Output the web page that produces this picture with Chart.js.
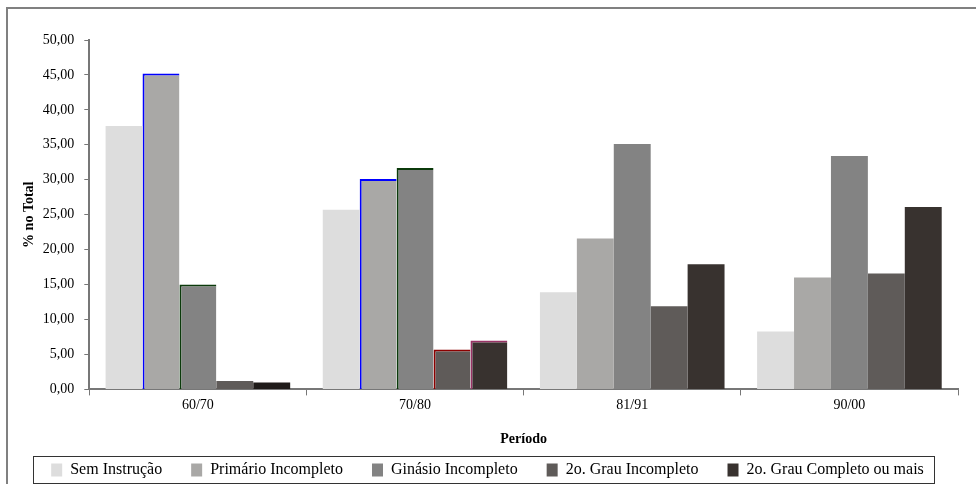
<!DOCTYPE html>
<html>
<head>
<meta charset="utf-8">
<script src="https://cdn.jsdelivr.net/npm/chart.js@4"></script>
<style>
  body { margin: 0; background: #fff; }
  #wrap { width: 976px; height: 484px; }
</style>
</head>
<body>
<div id="wrap"><canvas id="grafico"></canvas></div>
<script>
// dados
const periodos = ['60/70', '70/80', '81/91', '90/00'];
const semInstrucao = [37.7, 25.7, 13.9, 8.3];
const primarioIncompleto = [45.2, 30.1, 21.6, 16.0];
const ginasioIncompleto = [15.0, 31.7, 35.1, 33.4];
const segGrauIncompleto = [1.2, 5.7, 11.9, 16.6];
const segGrauCompleto = [1.0, 7.0, 17.9, 26.1];
const yTicks = [0, 5, 10, 15, 20, 25, 30, 35, 40, 45, 50];

const fonte = "'Liberation Serif', 'Times New Roman', serif";
const coresLegenda = ['#dddddd', '#a9a8a6', '#838383', '#5f5b59', '#38322f'];

// bordas coloridas que aparecem em algumas barras
function bordaParcial(indices) {
    return periodos.map((p, i) => indices.includes(i) ? { left: 2, top: 2, right: 0, bottom: 0 } : 0);
}

const dados = {
    labels: periodos,
    datasets: [
        { label: 'Sem Instrução', data: semInstrucao, backgroundColor: '#dddddd', borderWidth: 0 },
        { label: 'Primário Incompleto', data: primarioIncompleto, backgroundColor: '#a9a8a6',
          borderColor: '#0000ff', borderWidth: bordaParcial([0, 1]) },
        { label: 'Ginásio Incompleto', data: ginasioIncompleto, backgroundColor: '#838383',
          borderColor: '#0b3a0b', borderWidth: bordaParcial([0, 1]) },
        { label: '2o. Grau Incompleto', data: segGrauIncompleto, backgroundColor: '#5f5b59',
          borderColor: '#8b0000', borderWidth: bordaParcial([1]) },
        { label: '2o. Grau Completo ou mais', data: segGrauCompleto,
          backgroundColor: ['#1f1b19', '#38322f', '#38322f', '#38322f'],
          borderColor: '#993366', borderWidth: bordaParcial([1]) }
    ]
};

// moldura externa e caixa da legenda
const molduras = {
    id: 'molduras',
    afterDraw(chart) {
        const ctx = chart.ctx;
        ctx.save();
        ctx.strokeStyle = '#808080';
        ctx.lineWidth = 2;
        ctx.beginPath();
        ctx.moveTo(7, 484);
        ctx.lineTo(7, 8);
        ctx.lineTo(976, 8);
        ctx.stroke();

        const lg = chart.legend;
        if (lg && lg.legendHitBoxes && lg.legendHitBoxes.length) {
            const boxes = lg.legendHitBoxes;
            const x0 = Math.min(...boxes.map(b => b.left)) - 18;
            const x1 = Math.max(...boxes.map(b => b.left + b.width)) + 10;
            const y0 = boxes[0].top - 6;
            const y1 = boxes[0].top + boxes[0].height + 5;
            ctx.strokeStyle = '#333';
            ctx.lineWidth = 1;
            ctx.strokeRect(Math.round(x0) + 0.5, Math.round(y0) + 0.5, Math.round(x1 - x0), Math.round(y1 - y0));
        }
        ctx.restore();
    }
};

new Chart(document.getElementById('grafico'), {
    type: 'bar',
    data: dados,
    plugins: [molduras],
    options: {
        responsive: true,
        maintainAspectRatio: false,
        animation: false,
        layout: { padding: { left: 17, right: 18, top: 40, bottom: -4 } },
        datasets: { bar: { categoryPercentage: 0.85, barPercentage: 1.0 } },
        plugins: {
            tooltip: { enabled: false },
            legend: {
                position: 'bottom',
                labels: {
                    color: '#000',
                    font: { family: fonte, size: 16 },
                    boxWidth: 11,
                    boxHeight: 13,
                    padding: 29,
                    generateLabels(chart) {
                        return chart.data.datasets.map((ds, i) => ({
                            text: ds.label,
                            fillStyle: coresLegenda[i],
                            strokeStyle: coresLegenda[i],
                            lineWidth: 0,
                            hidden: false,
                            datasetIndex: i
                        }));
                    }
                }
            }
        },
        scales: {
            x: {
                grid: { display: true, drawOnChartArea: false, drawTicks: true, tickLength: 6, color: '#777', offset: true },
                border: { color: '#777', width: 2 },
                ticks: { color: '#000', font: { family: fonte, size: 14 }, padding: 2 },
                title: { display: true, text: 'Período', color: '#000',
                         font: { family: fonte, size: 14, weight: 'bold' }, padding: { top: 15, bottom: -15 } }
            },
            y: {
                min: 0,
                max: 50,
                afterBuildTicks(axis) { axis.ticks = yTicks.map(v => ({ value: v })); },
                grid: { display: true, drawOnChartArea: false, drawTicks: true, tickLength: 5, color: '#777' },
                border: { color: '#777', width: 2 },
                ticks: {
                    color: '#000',
                    font: { family: fonte, size: 14 },
                    padding: 10,
                    callback: v => v.toFixed(2).replace('.', ',')
                },
                title: { display: true, text: '% no Total', color: '#000',
                         font: { family: fonte, size: 14, weight: 'bold' }, padding: { bottom: -5 } }
            }
        }
    }
});
</script>
</body>
</html>
